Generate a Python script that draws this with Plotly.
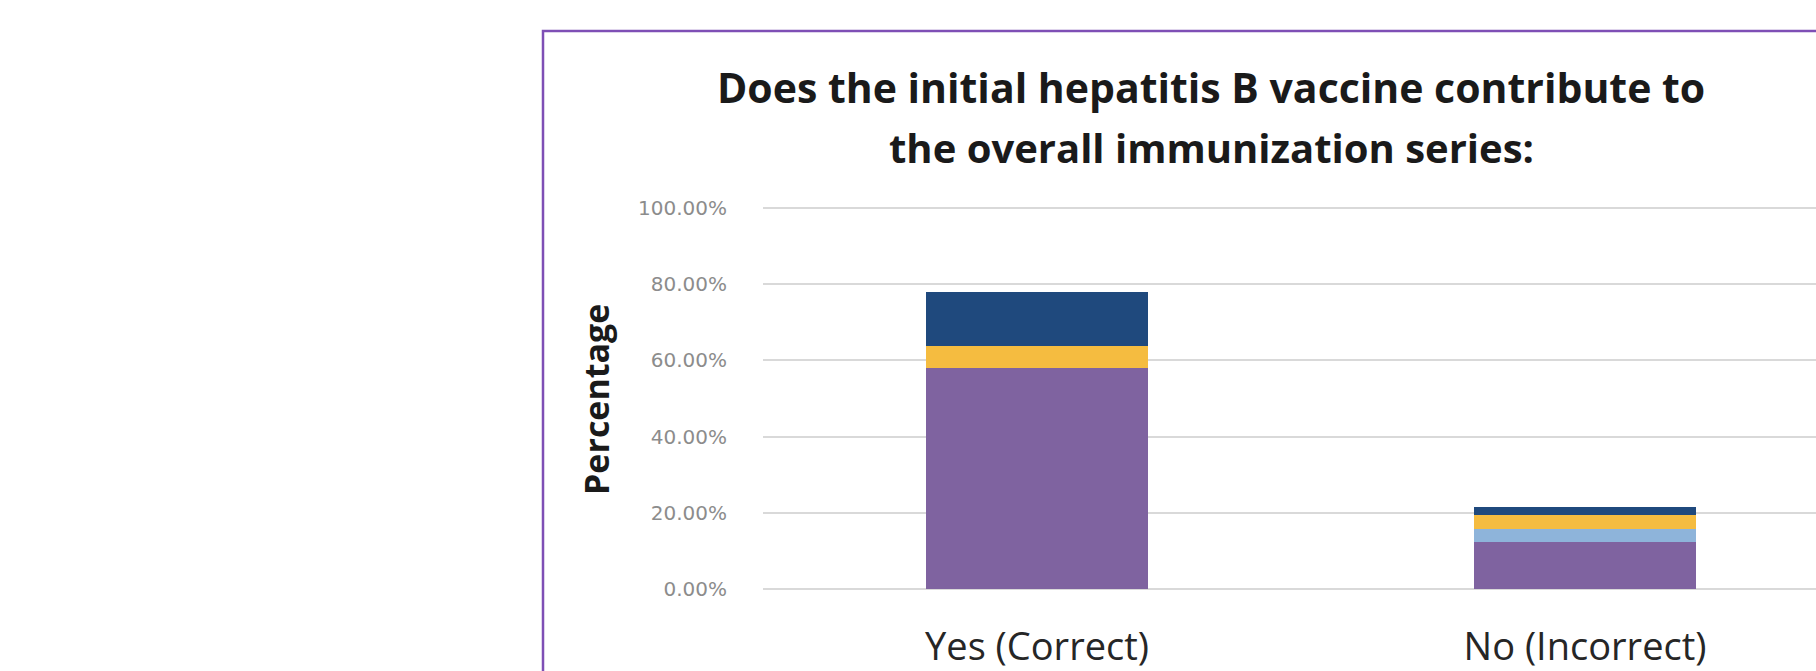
import plotly.graph_objects as go

categories = ["Yes (Correct)", "No (Incorrect)"]
series_names = ["Group 1", "Group 2", "Group 3", "Group 4"]
group1 = [0.580, 0.123]
group2 = [0.000, 0.034]
group3 = [0.058, 0.037]
group4 = [0.142, 0.022]
colors = ["#7F63A0", "#8EB4DA", "#F5BC40", "#1F497D"]
y_ticks = [0, 0.2, 0.4, 0.6, 0.8, 1.0]

W, H = 1816, 671
L, R, T, B = 763, 0, 206, 82
pw, ph = W - L - R, H - T - B
YMAX = 1.005

def px_x(p):
    return (p - L) / pw

def px_y(p):
    return (H - B - p) / ph

fig = go.Figure()
for name, vals, c in zip(series_names, [group1, group2, group3, group4], colors):
    fig.add_trace(go.Bar(x=categories, y=vals, name=name, marker=dict(color=c, line=dict(width=0)),
                         width=0.405))

fig.update_layout(
    width=W, height=H, barmode="stack", showlegend=False,
    margin=dict(l=L, r=R, t=T, b=B, pad=0),
    paper_bgcolor="white", plot_bgcolor="white",
    font=dict(family="Open Sans, Lato, sans-serif"),
    xaxis=dict(range=[-0.5, -0.5 + pw / 548], showgrid=False, showline=False, zeroline=False,
               ticks="", tickfont=dict(size=38, color="#262626", family="Open Sans"), ticklabelstandoff=32),
    yaxis=dict(range=[0, YMAX], tickvals=y_ticks, tickformat=".2%", showgrid=True, gridcolor="#D9D9D9",
               gridwidth=2, zeroline=True, zerolinecolor="#D9D9D9", zerolinewidth=2, showline=False,
               ticks="", tickfont=dict(size=20, color="#8C8C8C", family="DejaVu Sans"), ticklabelstandoff=35),
    shapes=[dict(type="rect", xref="paper", yref="paper", x0=px_x(543), x1=px_x(1900), y0=px_y(31), y1=px_y(720),
                 line=dict(color="#7E4FB5", width=2.5), fillcolor="rgba(0,0,0,0)", layer="above")],
    annotations=[
        dict(text="<b>Does the initial hepatitis B vaccine contribute to</b>", x=px_x(1211), y=px_y(87),
             xref="paper", yref="paper", showarrow=False, xanchor="center", yanchor="middle",
             font=dict(size=41, color="#1a1a1a", family="Open Sans")),
        dict(text="<b>the overall immunization series:</b>", x=px_x(1211), y=px_y(148),
             xref="paper", yref="paper", showarrow=False, xanchor="center", yanchor="middle",
             font=dict(size=40, color="#1a1a1a", family="Open Sans")),
        dict(text="<b>Percentage</b>", x=px_x(596), y=px_y(400), xref="paper", yref="paper",
             showarrow=False, textangle=-90, xanchor="center", yanchor="middle",
             font=dict(size=34, color="#1a1a1a", family="Open Sans")),
    ],
)

fig.write_html("out.html")
